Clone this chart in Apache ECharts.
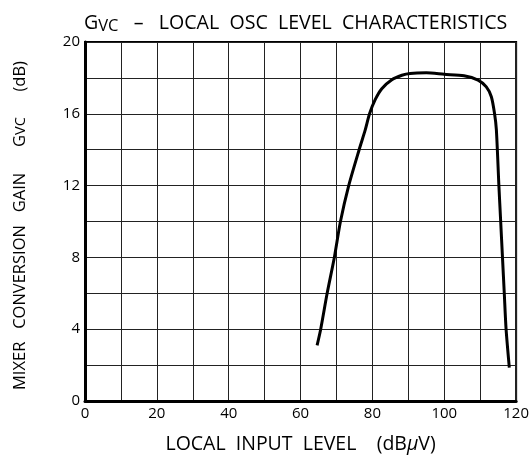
<!DOCTYPE html>
<html>
<head>
<meta charset="utf-8">
<script src="https://cdn.jsdelivr.net/npm/echarts@6/dist/echarts.min.js"></script>
<style>
html,body{margin:0;padding:0;background:#fff;}
#chart{width:532px;height:460px;}
</style>
</head>
<body>
<div id="chart"></div>
<script>
var inputLevel = [64.6, 65.6, 67.4, 69.4, 71.1, 73.4, 76.3, 78.0, 79.2, 80.8, 82.6, 85.4, 88.2, 90.5, 95.0, 100.0, 105.5, 109.4, 111.7, 113.1, 114.0, 114.5, 115.2, 115.7, 116.2, 116.7, 117.2, 118.1];
var gain       = [3.1, 4.0, 6.0, 8.0, 10.0, 12.0, 14.0, 15.1, 16.0, 16.8, 17.4, 17.9, 18.15, 18.25, 18.28, 18.2, 18.12, 17.88, 17.5, 16.95, 16.0, 15.1, 12.0, 10.0, 8.0, 6.0, 4.0, 1.86];
var xTickLabels = ['0', '20', '40', '60', '80', '100', '120'];
var yTickLabels = ['0', '4', '8', '12', '16', '20'];

var FONT = '"Open Sans", "Noto Sans", sans-serif';
var chart = echarts.init(document.getElementById('chart'), null, {renderer: 'canvas'});
var option = {
  backgroundColor: '#fff',
  animation: false,
  title: {
    text: '{g|G}{sub|VC}{t|   –   LOCAL  OSC  LEVEL  CHARACTERISTICS}',
    left: 79, top: 6,
    textStyle: {
      fontWeight: 'normal',
      rich: {
        g: {fontFamily: FONT, fontSize: 19.6, fontWeight: 'normal', color: '#000'},
        sub: {fontFamily: FONT, fontSize: 16.5, fontWeight: 'normal', color: '#000', verticalAlign: 'bottom', padding: [7, 0, 0, 0]},
        t: {fontFamily: FONT, fontSize: 19.6, fontWeight: 'normal', color: '#000'}
      }
    }
  },
  grid: {left: 85, right: 14, top: 42, bottom: 59, show: true, borderColor: '#000', borderWidth: 2, backgroundColor: 'transparent'},
  xAxis: {
    type: 'value', min: 0, max: 120, interval: 10,
    name: '{t|LOCAL  INPUT  LEVEL    (dB}{mu|μ}{t|V)}',
    nameLocation: 'middle', nameGap: 33,
    nameTextStyle: {
      rich: {
        t: {fontFamily: FONT, fontSize: 19.5, color: '#000'},
        mu: {fontFamily: FONT, fontSize: 19.5, color: '#000', fontStyle: 'italic'}
      }
    },
    axisLine: {show: true, lineStyle: {color: '#000', width: 3}},
    axisTick: {show: false},
    splitLine: {show: true, lineStyle: {color: '#222', width: 1}},
    axisLabel: {
      color: '#000', fontFamily: FONT, fontSize: 15, margin: 5,
      formatter: function (v) { return xTickLabels.indexOf(String(v)) >= 0 ? String(v) : ''; }
    }
  },
  yAxis: {
    type: 'value', min: 0, max: 20, interval: 2,
    name: '{t|MIXER   CONVERSION   GAIN      G}{s|VC}{t|      (dB)}',
    nameLocation: 'middle', nameGap: 56, nameRotate: 90,
    nameTextStyle: {
      padding: [0, 8, 0, 0],
      rich: {
        t: {fontFamily: FONT, fontSize: 16.5, color: '#000'},
        s: {fontFamily: FONT, fontSize: 14.5, color: '#000'}
      }
    },
    axisLine: {show: true, lineStyle: {color: '#000', width: 3}},
    axisTick: {show: false},
    splitLine: {show: true, lineStyle: {color: '#222', width: 1}},
    axisLabel: {
      color: '#000', fontFamily: FONT, fontSize: 15, margin: 5,
      formatter: function (v) { return yTickLabels.indexOf(String(v)) >= 0 ? String(v) : ''; }
    }
  },
  series: [{
    type: 'line',
    data: inputLevel.map(function (x, i) { return [x, gain[i]]; }),
    smooth: 0.25,
    showSymbol: false,
    lineStyle: {color: '#000', width: 3},
    z: 5
  }]
};
chart.setOption(option);
</script>
</body>
</html>
